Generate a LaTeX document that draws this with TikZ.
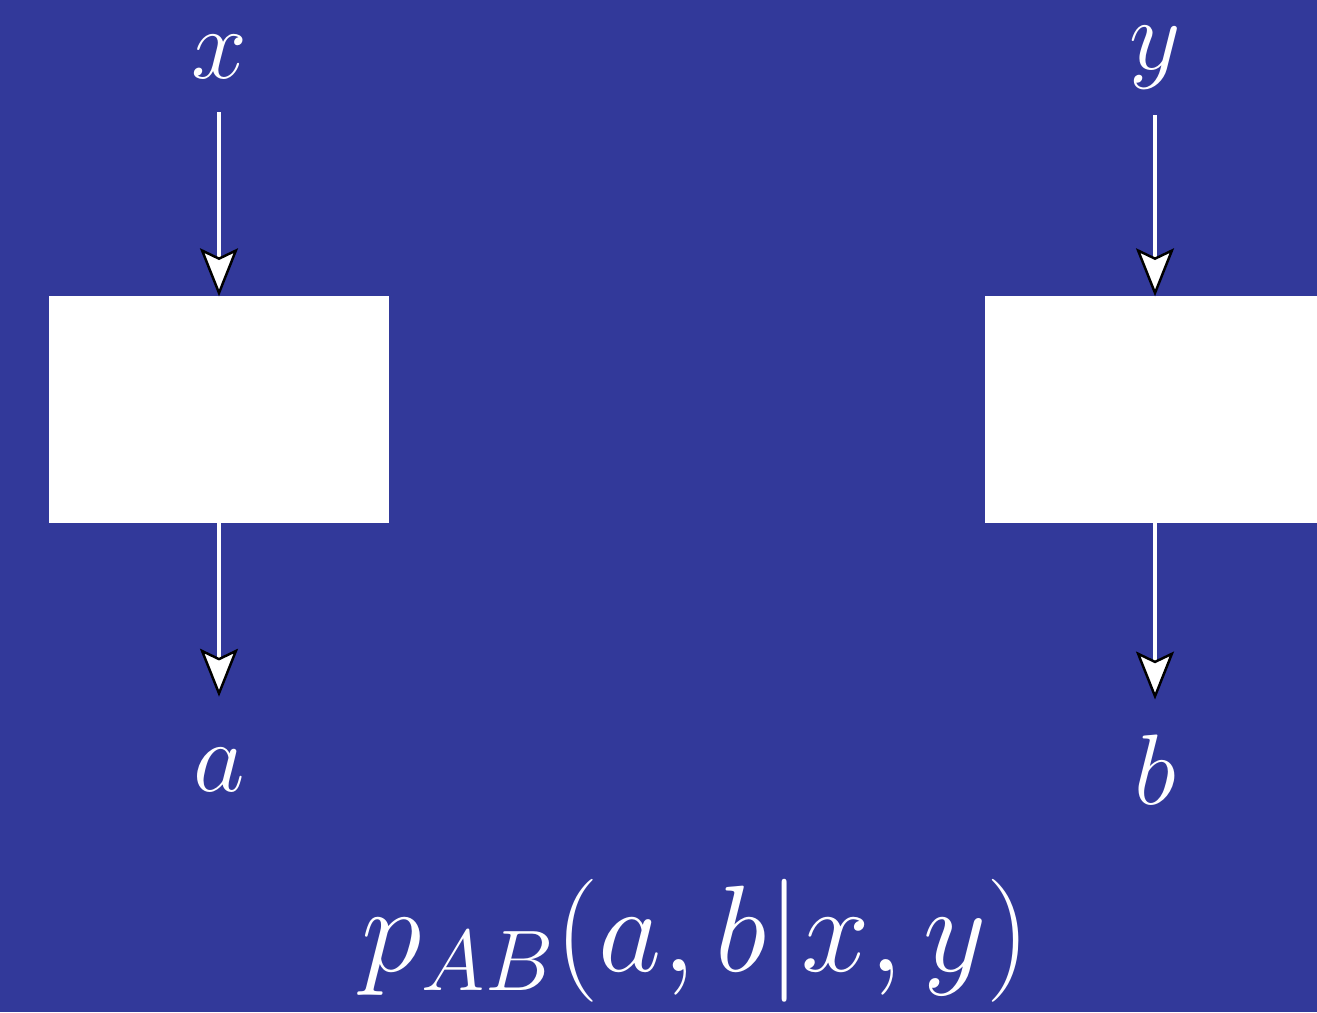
\RequirePackage{fix-cm}
\documentclass[tikz,border=0pt]{standalone}
\usepackage{amsmath,amssymb}
\usepackage{tikz}
\usetikzlibrary{arrows.meta,positioning}

\definecolor{bgblue}{RGB}{50,57,154}

\begin{document}
\begin{tikzpicture}[
    box/.style={rectangle,fill=white,draw=white,inner sep=0pt,
        minimum width=3.38cm,minimum height=2.25cm},
    lab/.style={white,inner sep=0pt,font=\fontsize{28.5}{34}\selectfont},
    flow/.style={white,line width=0.9pt,
        -{Stealth[length=4.8mm,width=3.8mm,inset=0.9mm,fill=white,color=black,line width=0.7pt]}}
    ]
    % background and page size
    \fill[bgblue] (0,0) rectangle (13.17,10.12);
    \useasboundingbox (0,0) rectangle (13.17,10.12);

    % the two boxes
    \node[box] (boxA) at (2.19,6.025) {};
    \node[box] (boxB) at (11.55,6.025) {};

    % inputs and outputs
    \node[lab] (xin) at (2.19,9.55) {$x$};
    \node[lab] (yin) at (11.55,9.54) {$y$};
    \node[lab] (aout) at (2.19,2.42) {$a$};
    \node[lab] (bout) at (11.55,2.42) {$b$};

    \draw[flow,shorten <=0.33cm] (xin) -- (boxA);
    \draw[flow,shorten <=0.25cm] (yin) -- (boxB);
    \draw[flow,shorten >=0.51cm] (boxA) -- (aout);
    \draw[flow,shorten >=0.35cm] (boxB) -- (bout);

    % joint distribution
    \node[white,inner sep=0pt,font=\fontsize{35}{42}\selectfont] (pab) at (6.96,0.71)
        {$p_{AB}(a,b|x,y)$};
\end{tikzpicture}
\end{document}
